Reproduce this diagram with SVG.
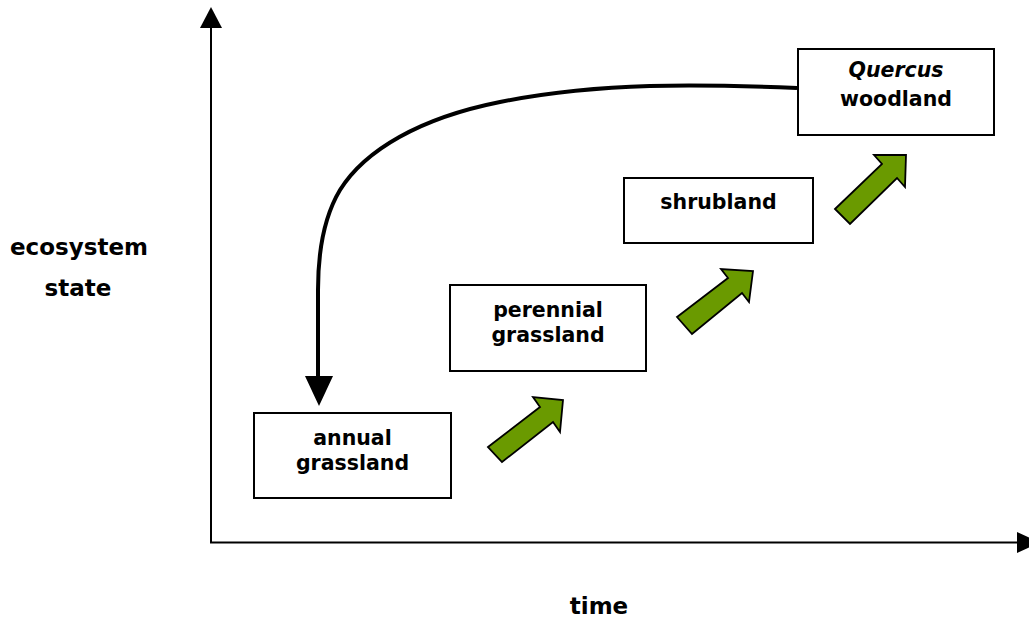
<svg xmlns="http://www.w3.org/2000/svg" width="1029" height="621" viewBox="0 0 1029 621">
<style>
.box{fill:#fff;stroke:#000;stroke-width:2}
.t{font-family:"DejaVu Sans","Verdana",sans-serif;font-weight:bold;font-size:20.5px;text-anchor:middle;fill:#000}
.ax{font-family:"DejaVu Sans","Verdana",sans-serif;font-weight:bold;font-size:23px;text-anchor:middle;fill:#000}
.g{fill:#6a9a00;stroke:#000;stroke-width:1.8;stroke-linejoin:miter}
</style>
<rect width="1029" height="621" fill="#fff"/>
<g id="axes">
<line x1="211" y1="26" x2="211" y2="543" stroke="#000" stroke-width="2"/>
<polygon points="211,7 200,28 222,28" fill="#000"/>
<line x1="210" y1="542.5" x2="1019" y2="542.5" stroke="#000" stroke-width="2"/>
<polygon points="1017,532 1017,553 1040,542.5" fill="#000"/>
<text class="ax" x="79" y="255" font-size="24px">ecosystem</text>
<text class="ax" x="78" y="296" font-size="24px">state</text>
<text class="ax" x="599" y="614">time</text>
</g>
<g id="annual">
<rect class="box" x="254" y="413" width="197" height="85"/>
<text class="t" x="352.5" y="445">annual</text>
<text class="t" x="352.5" y="470">grassland</text>
</g>
<g id="perennial">
<rect class="box" x="450" y="285" width="196" height="86"/>
<text class="t" x="548" y="317">perennial</text>
<text class="t" x="548" y="342">grassland</text>
</g>
<g id="shrubland">
<rect class="box" x="624" y="178" width="189" height="65"/>
<text class="t" x="718.5" y="209">shrubland</text>
</g>
<g id="quercus">
<rect class="box" x="798" y="49" width="196" height="86"/>
<text class="t" x="896" y="77" font-style="italic">Quercus</text>
<text class="t" x="896" y="106">woodland</text>
</g>
<g id="connectors">
<path d="M797,88 C700,84 600,82 500,102 C420,118 365,150 340,190 C325,215 318,250 318,290 L318,378" fill="none" stroke="#000" stroke-width="4"/>
<polygon points="305,376 333,376 319,406" fill="#000"/>
<polygon class="g" points="488,447 540,407 533,397 563,400 560,432 553,422 502,462"/>
<polygon class="g" points="677,317 728,278 721,269 753,271 749,302 742,293 692,334"/>
<polygon class="g" points="835,209 882,164 874,155 906,155 905,187 897,178 850,224"/>
</g>
</svg>
